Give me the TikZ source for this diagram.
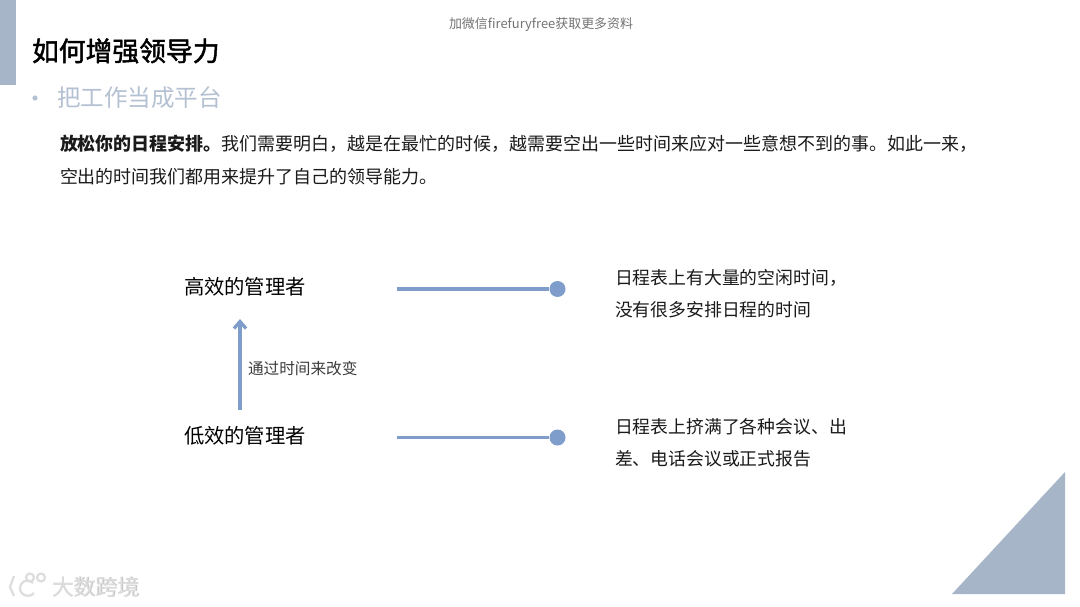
\documentclass[tikz,border=0pt]{standalone}
\usepackage{fontspec}
\setmainfont{Noto Sans CJK SC}
\usetikzlibrary{arrows.meta}
\definecolor{slate}{HTML}{A6B5C7}
\definecolor{sub}{HTML}{B4C1D2}
\definecolor{accent}{HTML}{7F9DCB}
\definecolor{ink}{HTML}{1A1A1A}
\definecolor{wm}{HTML}{DDDDDD}
\definecolor{wmshadow}{HTML}{C4C4C4}
\newcommand{\fs}[1]{\fontsize{#1}{#1}\selectfont}
\newcommand{\heavier}[1]{\special{pdf:code 2 Tr 0.45 w}#1\special{pdf:code 0 Tr 1 w}}
\tikzset{
  x=1bp,y=-1bp,
  txt/.style={anchor=base west,inner sep=0pt,outer sep=0pt,text=ink},
  titletxt/.style={txt,text=black,font=\fs{26.9}},
  subtxt/.style={txt,text=sub,font=\fs{23.6}},
  bodytxt/.style={txt,text=ink,font=\fs{18.05}},
  headtxt/.style={txt,text=black,font=\fs{20.4}},
  notetxt/.style={txt,text=ink,font=\fs{17.9}},
  labeltxt/.style={txt,text=ink!85,font=\fs{15.7}},
  toptxt/.style={txt,text=black!55,font=\fs{13}},
  wmtxt/.style={txt,text=wm,font=\fs{22}},
  wmshade/.style={txt,text=wmshadow,font=\fs{22}},
  conn/.style={draw=accent,line width=3.3bp},
  dotmark/.style={circle,fill=accent,minimum size=16bp,inner sep=0pt},
  logo/.style={draw=wm,line width=2.2bp,fill=none},
}
\begin{document}
\begin{tikzpicture}
\useasboundingbox (0,0) rectangle (1080,607);
\fill[white] (0,0) rectangle (1080,607);
\fill[slate] (0,0) rectangle (16,85);
\fill[slate] (952,594) -- (1065,594) -- (1065,472) -- cycle;

\node[toptxt] (top) at (449,29) {加微信firefuryfree获取更多资料};
\node[titletxt] (title) at (32,61) {\heavier{如何增强领导力}};
\node[subtxt] (subtitle) at (57,107) {把工作当成平台};
\fill[sub] (35,98) circle (2.6);
\node[bodytxt] (line1) at (60,151) {\textbf{放松你的日程安排。}我们需要明白，越是在最忙的时候，越需要空出一些时间来应对一些意想不到的事。如此一来，};
\node[bodytxt] (line2) at (60,184) {空出的时间我们都用来提升了自己的领导能力。};

\node[headtxt] (high) at (184,295) {高效的管理者};
\node[headtxt] (low) at (184,443) {低效的管理者};
\node[labeltxt] (via) at (248,374) {通过时间来改变};

\coordinate (startA) at (397,289);
\coordinate (startB) at (397,437.5);
\node[dotmark] (dotA) at (557.5,289) {};
\node[dotmark] (dotB) at (557.5,437.5) {};
\draw[conn] (startA) -- (dotA);
\draw[conn] (startB) -- (dotB);

\coordinate (arrowfrom) at (240,410);
\coordinate (arrowto) at (240,319);
\draw[conn,-{Straight Barb[length=7bp,width=12bp,line width=3.3bp]}] (arrowfrom) -- (arrowto);

\node[notetxt] (noteA1) at (615,285) {日程表上有大量的空闲时间，};
\node[notetxt] (noteA2) at (615,317) {没有很多安排日程的时间};
\node[notetxt] (noteB1) at (615,433) {日程表上挤满了各种会议、出};
\node[notetxt] (noteB2) at (615,465) {差、电话会议或正式报告};

% watermark
\node[wmshade] (wmS) at (52.7,595.7) {大数跨境};
\node[wmtxt] (wmT) at (52,595) {大数跨境};
\draw[logo] (14,576) -- (10,587) -- (14,596);
\draw[logo] (33,583) .. controls (26,577) and (20,583) .. (20,588) .. controls (20,595) and (28,599) .. (34,593);
\draw[logo] (30,577.5) circle (4);
\draw[logo] (41,577.5) circle (4);
\end{tikzpicture}
\end{document}
